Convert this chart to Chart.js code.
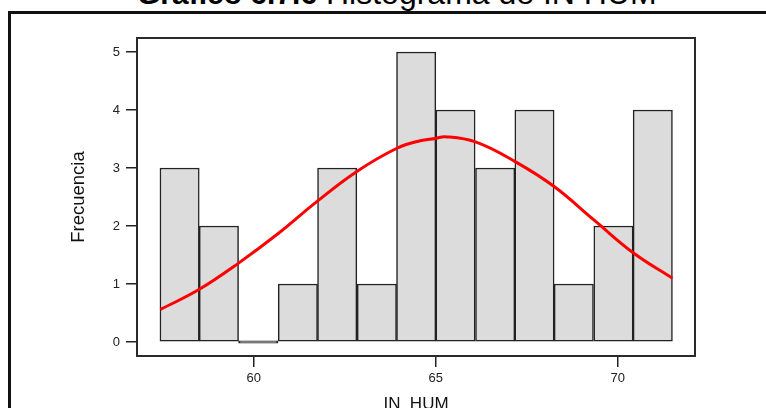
<!DOCTYPE html>
<html>
<head>
<meta charset="utf-8">
<title>Histograma de IN HUM</title>
<script src="https://cdn.jsdelivr.net/npm/chart.js@4.4.1/dist/chart.umd.min.js"></script>
<style>
  html, body {
      margin: 0;
      padding: 0;
      background: #fff;
      width: 766px;
      height: 408px;
      overflow: hidden;
  }
  #wrap {
      position: relative;
      width: 766px;
      height: 408px;
      overflow: hidden;
  }
  #chart {
      position: absolute;
      left: 0;
      top: 0;
  }
  /* outer frame: heavy rule along the top and down the left side */
  .rule-top {
      position: absolute;
      left: 8px;
      top: 11px;
      width: 758px;
      height: 3px;
      background: #111;
  }
  .rule-left {
      position: absolute;
      left: 8px;
      top: 11px;
      width: 3px;
      height: 397px;
      background: #111;
  }
  #title {
      position: absolute;
      left: 137px;
      top: -22px;
      font-family: 'Liberation Sans', Arial, sans-serif;
      font-size: 30px;
      line-height: 30px;
      white-space: nowrap;
      color: #000;
  }
  #title span {
      font-size: 32px;
  }
</style>
</head>
<body>
<div id="wrap">
  <div id="title"><b>Gráfico 6.7.6</b><span> Histograma de IN HUM</span></div>
  <div class="rule-top"></div>
  <div class="rule-left"></div>
  <canvas id="chart" width="766" height="440"></canvas>
</div>

<script>
/* =========================
   Data
   ========================= */

// bin midpoints of IN_HUM and the count in each bin
const binMids = [57.96, 59.04, 60.12, 61.21, 62.29, 63.38, 64.46, 65.54, 66.63, 67.71, 68.79, 69.88, 70.96];
const binCounts = [3, 2, 0, 1, 3, 1, 5, 4, 3, 4, 1, 2, 4];

// fitted normal curve, sampled along the x range
const curveX = [57.43, 58.48, 59.58, 60.67, 61.73, 62.83, 63.93, 64.57, 64.99, 65.26, 66.09, 67.18, 68.25, 69.35, 70.44, 71.50];
const curveY = [0.56, 0.90, 1.36, 1.87, 2.42, 2.94, 3.34, 3.47, 3.51, 3.54, 3.45, 3.11, 2.68, 2.10, 1.53, 1.10];

// tick labels
const xTicks = [60, 65, 70];
const yTicks = [0, 1, 2, 3, 4, 5];

const FONT = "'Liberation Sans', Arial, sans-serif";

/* =========================
   Plot box around the chart area
   ========================= */

const plotBox = {
    id: 'plotBox',
    beforeDatasetsDraw(chart) {
        const { ctx, chartArea: a } = chart;
        ctx.save();
        ctx.strokeStyle = '#2a2a2a';
        ctx.lineWidth = 2;
        ctx.strokeRect(a.left, a.top, a.right - a.left, a.bottom - a.top);
        ctx.restore();
    }
};

/* =========================
   Chart
   ========================= */

const ctx = document.getElementById('chart').getContext('2d');
new Chart(ctx, {
    data: {
        datasets: [
            {
                type: 'line',
                label: 'Normal',
                data: curveX.map((x, i) => ({ x: x, y: curveY[i] })),
                borderColor: '#ff0000',
                borderWidth: 3,
                pointRadius: 0,
                tension: 0.4,
                fill: false,
                order: 0
            },
            {
                type: 'bar',
                label: 'Frecuencia',
                data: binMids.map((x, i) => ({ x: x, y: binCounts[i] })),
                backgroundColor: '#dcdcdc',
                borderColor: '#222',
                borderWidth: 1.5,
                borderSkipped: false,
                minBarLength: 2.5,
                barPercentage: 1,
                categoryPercentage: 1,
                order: 1
            }
        ]
    },
    options: {
        responsive: false,
        animation: false,
        devicePixelRatio: 1,
        layout: {
            padding: { left: 0, top: 38, right: 71, bottom: 0 }
        },
        plugins: {
            legend: { display: false },
            tooltip: { enabled: false },
            title: { display: false }
        },
        scales: {
            x: {
                type: 'linear',
                min: 56.79,
                max: 72.12,
                offset: false,
                afterBuildTicks: (scale) => {
                    scale.ticks = xTicks.map(v => ({ value: v }));
                },
                afterFit: (scale) => {
                    scale.height = 84;
                },
                border: { display: false },
                grid: {
                    offset: false,
                    drawOnChartArea: false,
                    drawTicks: true,
                    tickLength: 11,
                    color: '#222',
                    lineWidth: 1.5
                },
                ticks: {
                    padding: 4,
                    color: '#222',
                    maxRotation: 0,
                    font: { family: FONT, size: 13 }
                },
                title: {
                    display: true,
                    text: 'IN_HUM',
                    color: '#111',
                    font: { family: FONT, size: 17 },
                    padding: { top: 0, bottom: 25.5 }
                }
            },
            y: {
                type: 'linear',
                min: -0.241,
                max: 5.241,
                afterBuildTicks: (scale) => {
                    scale.ticks = yTicks.map(v => ({ value: v }));
                },
                afterFit: (scale) => {
                    scale.width = 137;
                },
                border: { display: false },
                grid: {
                    drawOnChartArea: false,
                    drawTicks: true,
                    tickLength: 11,
                    color: '#222',
                    lineWidth: 1.5
                },
                ticks: {
                    padding: 6,
                    color: '#222',
                    font: { family: FONT, size: 13 }
                },
                title: {
                    display: true,
                    text: 'Frecuencia',
                    color: '#111',
                    font: { family: FONT, size: 18.5 },
                    padding: { top: 68, bottom: 0 }
                }
            }
        }
    },
    plugins: [plotBox]
});
</script>
</body>
</html>
